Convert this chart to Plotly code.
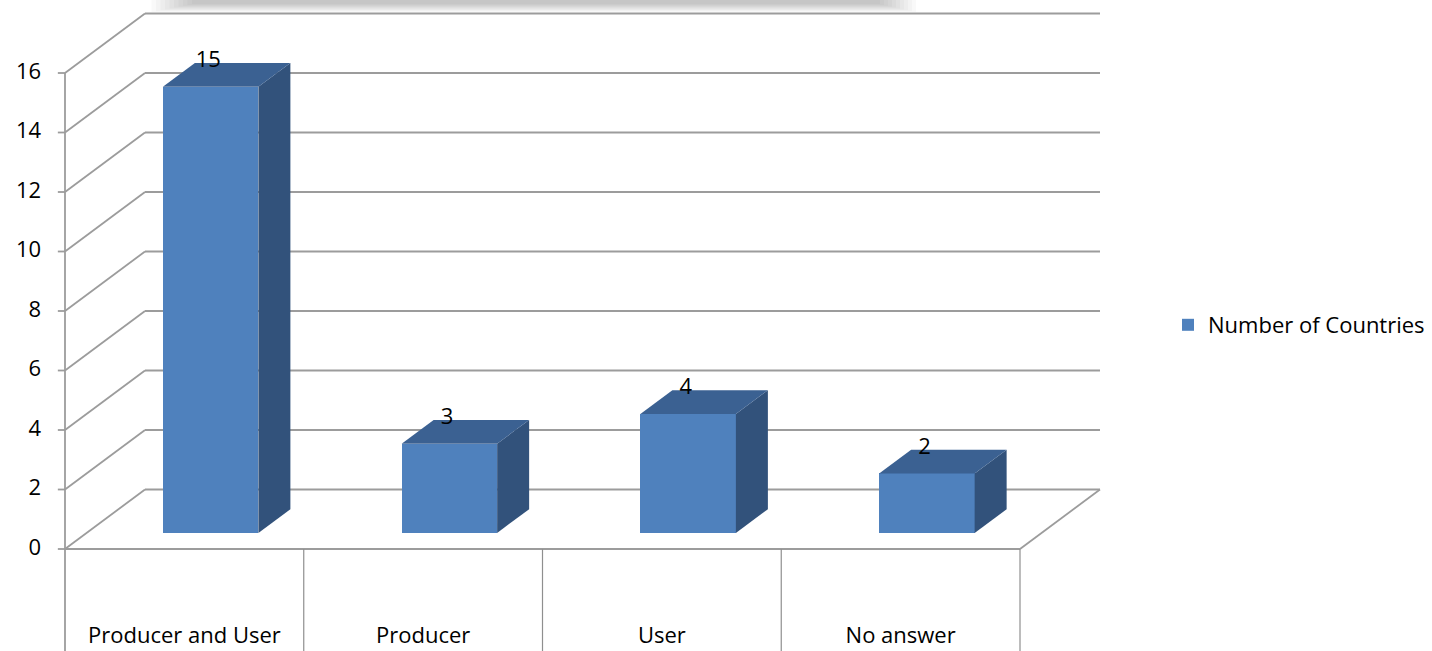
import plotly.graph_objects as go

# ---- data ----
categories = ["Producer and User", "Producer", "User", "No answer"]
values = [15, 3, 4, 2]
series_name = "Number of Countries"
y_ticks = [0, 2, 4, 6, 8, 10, 12, 14, 16]

# ---- layout geometry (pixels of the 1432x651 canvas) ----
W, H = 1432, 651
X0_PX, CAT_PX = 65, 238.75        # front-left corner, width of one category
Y0_PX, UNIT_PX = 549, 29.75       # value 0 at front, pixels per value unit
DEPTH_DX = 80 / CAT_PX            # x shift of the back wall (category units)
DEPTH_DY = 59.5 / UNIT_PX         # y shift of the back wall (value units)
BAR_F = 0.27                      # depth of bar front faces
BAR_D = 0.40                      # depth of bars
BAR_W = 0.40
BAR_OFF = 0.61

FRONT = "#4f81bd"
TOP = "#3b6192"
SIDE = "#32527b"
GRID = "#9c9c9c"
FONT = "Open Sans"
FS = 22

xr = [-X0_PX / CAT_PX, (W - X0_PX) / CAT_PX]
yr = [-(H - Y0_PX) / UNIT_PX, Y0_PX / UNIT_PX]
ncat = len(categories)
ymax = y_ticks[-1]

fig = go.Figure()
shapes = []

def line(x0, y0, x1, y1, color=GRID, width=1.8):
    shapes.append(dict(type="line", x0=x0, y0=y0, x1=x1, y1=y1, xref="x", yref="y",
                       line=dict(color=color, width=width), layer="below"))

# top shadow of a (cropped) title box
for i in range(10):
    shapes.append(dict(type="rect", xref="paper", yref="paper",
                       x0=(192 - i * 4.5) / W, x1=(880 + i * 4) / W,
                       y0=1 - (4 + i * 0.9) / H, y1=1.05,
                       fillcolor="rgba(0,0,0,0.022)", line=dict(width=0), layer="below"))

# gridlines: side wall diagonals + back wall
for v in y_ticks:
    line(0, v, DEPTH_DX, v + DEPTH_DY)
    line(DEPTH_DX, v + DEPTH_DY, ncat + DEPTH_DX, v + DEPTH_DY)
    line(-0.03, v, 0, v)   # tick mark
# floor
line(0, 0, ncat, 0)
line(ncat, 0, ncat + DEPTH_DX, DEPTH_DY)
# vertical axis
line(0, ymax, 0, yr[0] - 0.5)
# category dividers
for k in range(1, ncat + 1):
    line(k, 0, k, yr[0] - 0.5, color="#8f8f8f", width=1.2)

# bars: front faces
base = BAR_F * DEPTH_DY
xs = [k + BAR_OFF for k in range(ncat)]
fig.add_trace(go.Bar(x=xs, y=values, base=base, width=BAR_W, name=series_name,
                     marker=dict(color=FRONT, line=dict(width=0)), showlegend=True))

ddx = BAR_D * DEPTH_DX
ddy = BAR_D * DEPTH_DY
for xc, v in zip(xs, values):
    l, r = xc - BAR_W / 2, xc + BAR_W / 2
    b, t = base, base + v
    # side face
    fig.add_trace(go.Scatter(x=[r, r + ddx, r + ddx, r, r], y=[b, b + ddy, t + ddy, t, b],
                             fill="toself", fillcolor=SIDE, mode="none",
                             showlegend=False, hoverinfo="skip"))
    # top face
    fig.add_trace(go.Scatter(x=[l, r, r + ddx, l + ddx, l], y=[t, t, t + ddy, t + ddy, t],
                             fill="toself", fillcolor=TOP, mode="none",
                             showlegend=False, hoverinfo="skip"))

# data labels
fig.add_trace(go.Scatter(x=[x - 0.01 for x in xs], y=[v + base + ddy + 0.05 for v in values],
                         mode="text", text=[str(v) for v in values],
                         textfont=dict(family=FONT, size=FS, color="black"),
                         textposition="middle center", showlegend=False, hoverinfo="skip"))

# y tick labels
fig.add_trace(go.Scatter(x=[-0.1] * len(y_ticks), y=y_ticks, mode="text",
                         text=[str(v) for v in y_ticks], textposition="middle left",
                         textfont=dict(family=FONT, size=FS, color="black"),
                         showlegend=False, hoverinfo="skip"))

# category labels
fig.add_trace(go.Scatter(x=[k + 0.5 for k in range(ncat)], y=[-2.98] * ncat, mode="text",
                         text=categories, textposition="middle center",
                         textfont=dict(family=FONT, size=FS, color="black"),
                         showlegend=False, hoverinfo="skip"))

fig.update_layout(
    width=W, height=H,
    margin=dict(l=0, r=0, t=0, b=0),
    paper_bgcolor="white", plot_bgcolor="white",
    xaxis=dict(range=xr, visible=False, fixedrange=True),
    yaxis=dict(range=yr, visible=False, fixedrange=True),
    shapes=shapes,
    showlegend=True,
    legend=dict(x=1168 / W, y=1 - 325 / H, xanchor="left", yanchor="middle",
                font=dict(family=FONT, size=FS, color="black"),
                bgcolor="rgba(0,0,0,0)", itemwidth=30),
    bargap=0,
)

fig.write_html("out.html", config={"displayModeBar": False},
               post_script="document.body.style.margin='0';document.body.style.overflow='hidden';")
